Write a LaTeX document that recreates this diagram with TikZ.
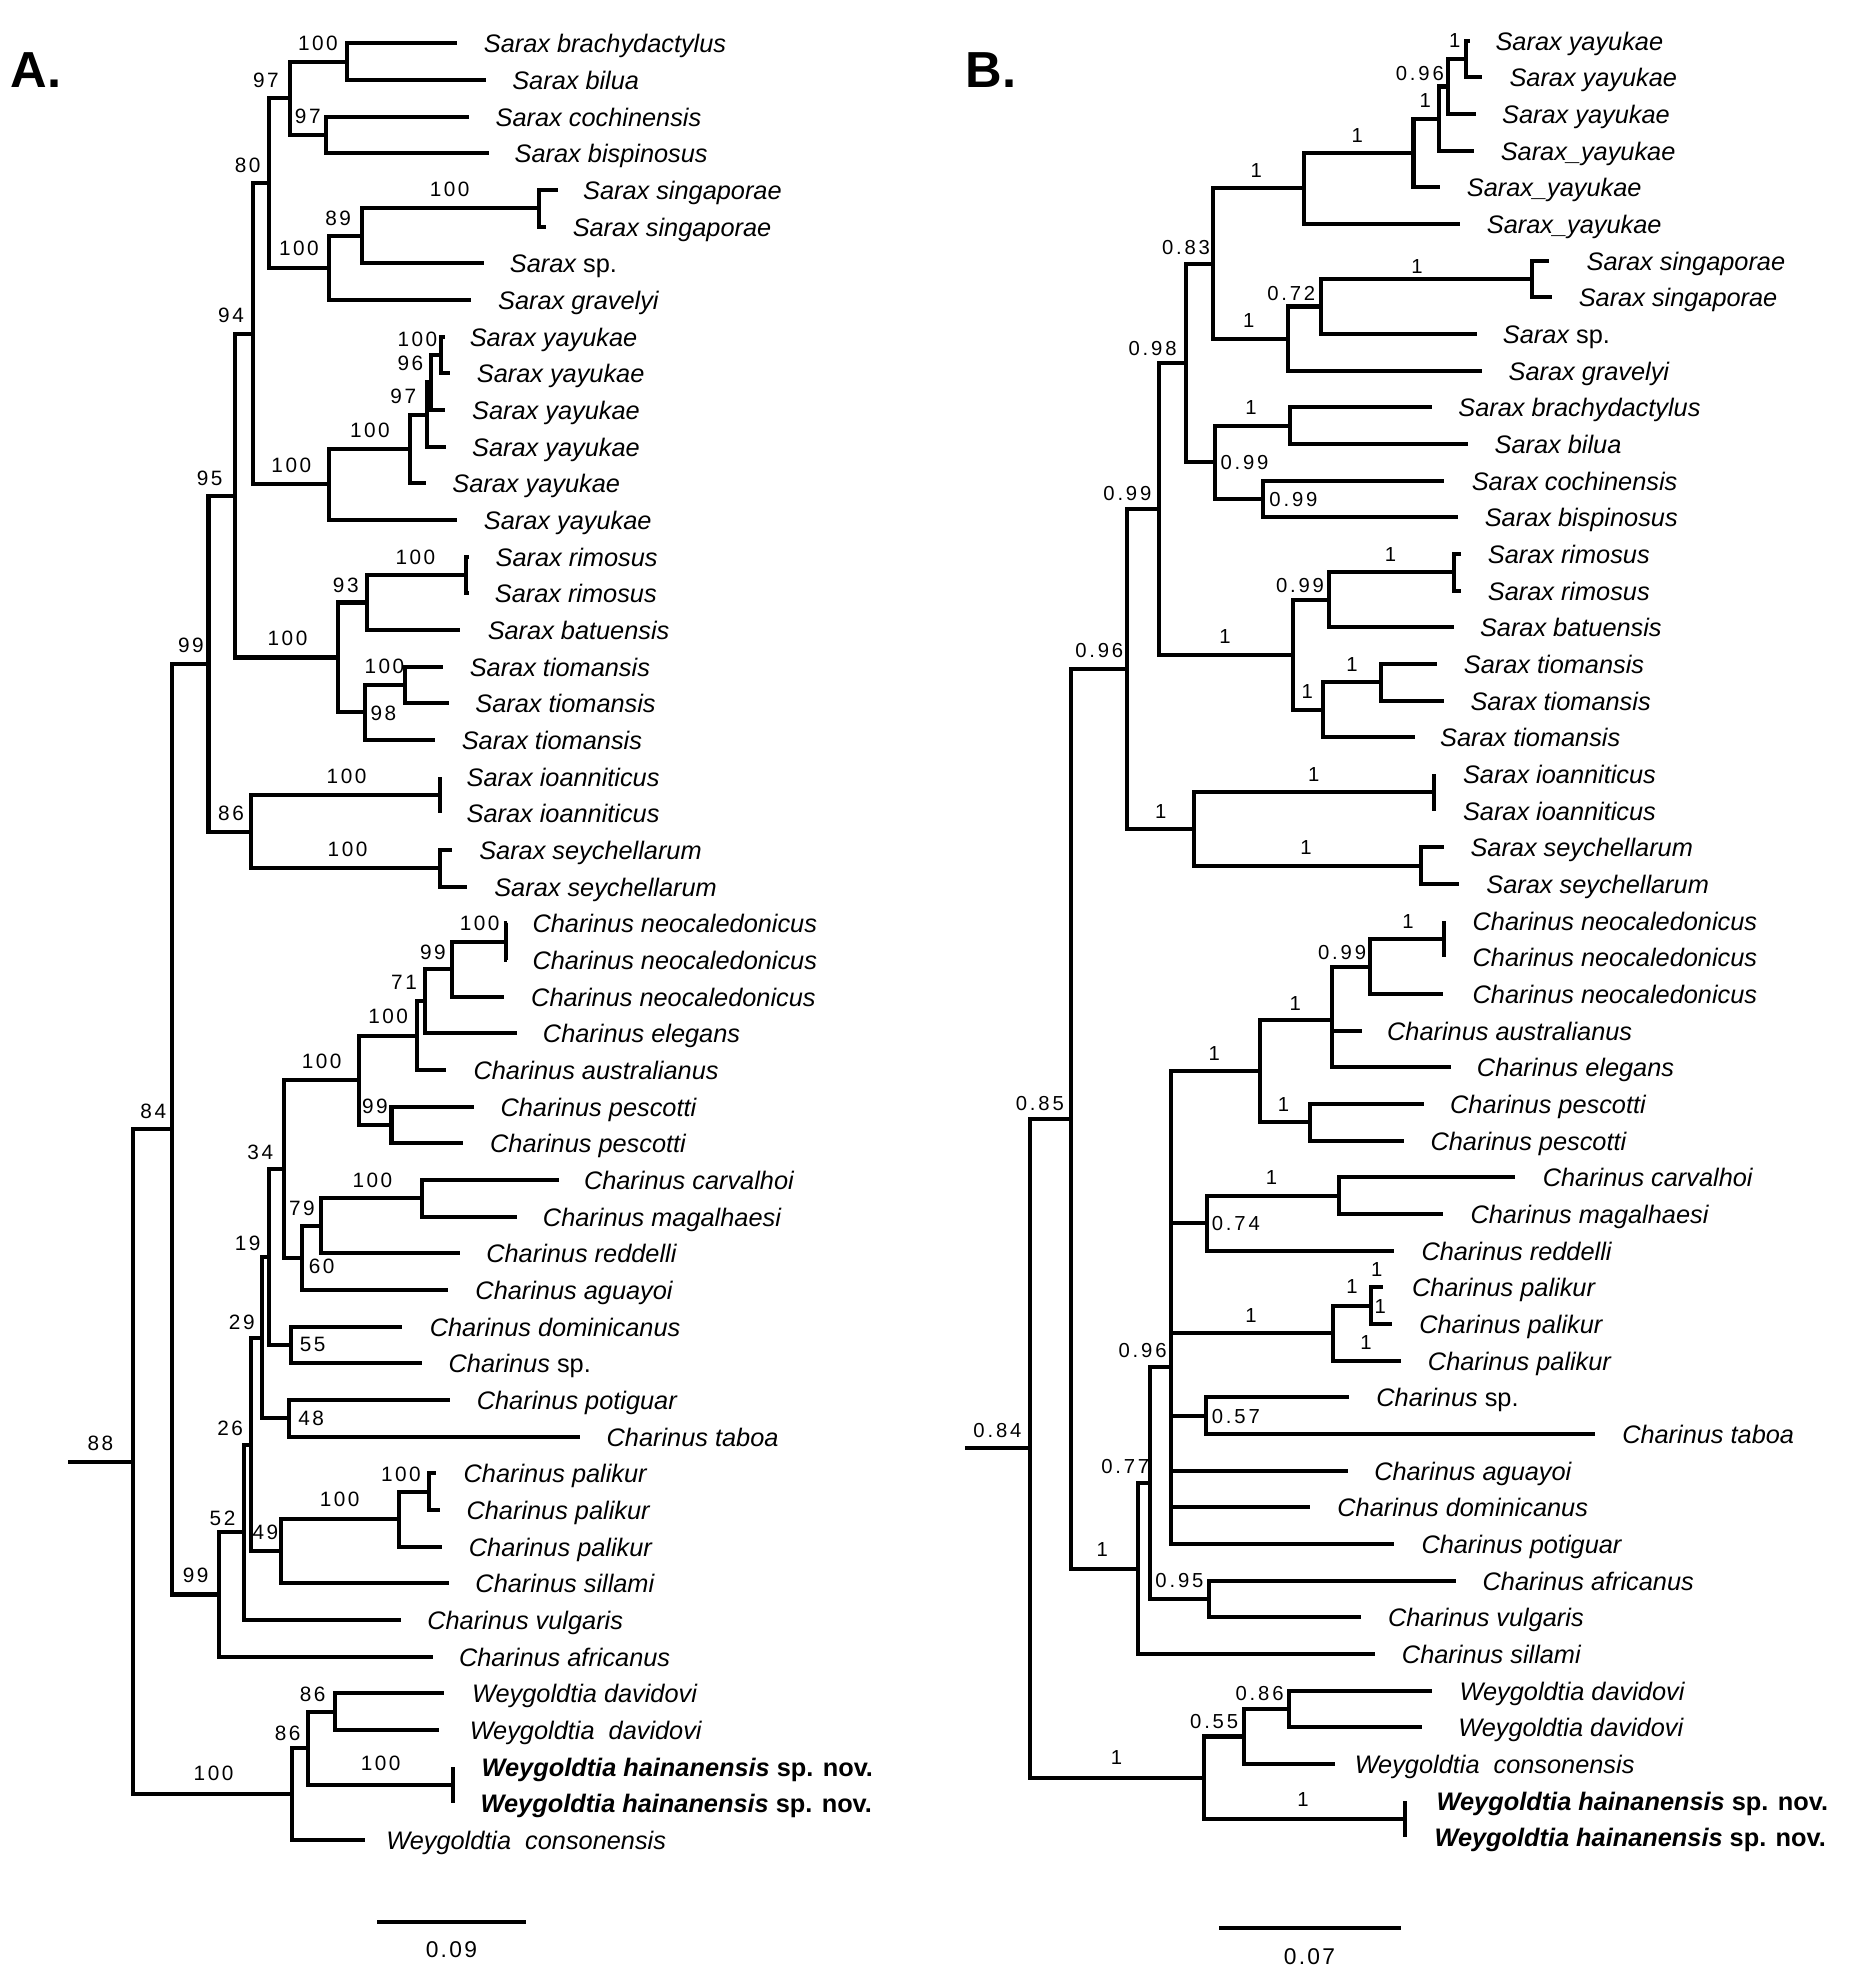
\documentclass[tikz,border=0pt]{standalone}
\usepackage{fontspec}
\setmainfont{Liberation Sans}
\newfontfamily\numA[LetterSpace=12]{Liberation Sans}
\newfontfamily\numB[LetterSpace=14]{Liberation Sans}
\newfontfamily\numC[LetterSpace=10]{Liberation Sans}
\newcommand{\Lf}[5]{\coordinate (#1) at (#2,#3); \node[tx] (t#1) at (#4,#3+7.4) {#5};}
\newcommand{\Br}[2]{\draw[br] (#1) |- (#2);}
\newcommand{\La}[4]{\node[sa] (#1) at (#2,#3+5.8) {#4};}
\newcommand{\Lb}[4]{\node[sb] (#1) at (#2,#3+5.8) {#4};}
\newcommand{\Hain}{{\bfseries Weygoldtia hainanensis \upshape sp. nov.}}
\tikzset{
  br/.style={line width=1.6pt, line join=miter, line cap=butt},
  tx/.style={anchor=base west, inner sep=0pt, font=\fontsize{10pt}{12pt}\selectfont\itshape},
  sa/.style={anchor=base, inner sep=0pt, font=\numA\fontsize{8.2pt}{10pt}\selectfont},
  sb/.style={anchor=base, inner sep=0pt, font=\numB\fontsize{8pt}{10pt}\selectfont},
  sc/.style={anchor=base, inner sep=0pt, font=\numC\fontsize{9pt}{11pt}\selectfont},
  ttl/.style={anchor=base west, inner sep=0pt, font=\fontsize{20pt}{24pt}\selectfont\bfseries},
}
\begin{document}
\begin{tikzpicture}[x=0.5pt,y=-0.5pt]
\useasboundingbox (0,0) rectangle (1472,1568);
\node[ttl] (titleA) at (8,69) {A.};
\node[ttl] (titleB) at (762,69) {B.};
% ================= TREE A =================
\Lf{a1}{361.2}{34.2}{381.7}{Sarax brachydactylus}
\Lf{a2}{383.6}{63.15}{404.1}{Sarax bilua}
\Lf{a3}{370.5}{92.1}{391.0}{Sarax cochinensis}
\Lf{a4}{386.2}{121.05}{406.0}{Sarax bispinosus}
\Lf{a5}{440.6}{150.0}{460.0}{Sarax singaporae}
\Lf{a6}{431.3}{178.95}{451.8}{Sarax singaporae}
\Lf{a7}{382.5}{207.9}{402.2}{Sarax {\upshape sp.}}
\Lf{a8}{371.7}{236.85}{392.9}{Sarax gravelyi}
\Lf{a9}{351.0}{265.8}{370.5}{Sarax yayukae}
\Lf{a10}{354.9}{294.75}{376.1}{Sarax yayukae}
\Lf{a11}{351.2}{323.7}{372.4}{Sarax yayukae}
\Lf{a12}{351.9}{352.65}{372.4}{Sarax yayukae}
\Lf{a13}{336.3}{381.6}{356.8}{Sarax yayukae}
\Lf{a14}{361.2}{410.55}{381.7}{Sarax yayukae}
\Lf{a15}{370.5}{439.5}{391.0}{Sarax rimosus}
\Lf{a16}{370.5}{468.45}{390.3}{Sarax rimosus}
\Lf{a17}{363.1}{497.4}{384.7}{Sarax batuensis}
\Lf{a18}{350.1}{526.35}{370.5}{Sarax tiomansis}
\Lf{a19}{354.5}{555.3}{375.0}{Sarax tiomansis}
\Lf{a20}{343.7}{584.25}{364.2}{Sarax tiomansis}
\Lf{a21}{347.5}{613.2}{368.0}{Sarax ioanniticus}
\Lf{a22}{347.5}{642.15}{368.0}{Sarax ioanniticus}
\Lf{a23}{356.8}{671.1}{378.0}{Sarax seychellarum}
\Lf{a24}{368.7}{700.05}{389.9}{Sarax seychellarum}
\Lf{a25}{400.5}{729.0}{420.1}{Charinus neocaledonicus}
\Lf{a26}{400.5}{757.95}{420.1}{Charinus neocaledonicus}
\Lf{a27}{397.7}{786.9}{419.0}{Charinus neocaledonicus}
\Lf{a28}{407.8}{815.85}{428.3}{Charinus elegans}
\Lf{a29}{351.9}{844.8}{373.5}{Charinus australianus}
\Lf{a30}{374.3}{873.75}{394.8}{Charinus pescotti}
\Lf{a31}{365.7}{902.7}{386.6}{Charinus pescotti}
\Lf{a32}{441.3}{931.65}{460.7}{Charinus carvalhoi}
\Lf{a33}{407.8}{960.6}{428.3}{Charinus magalhaesi}
\Lf{a34}{363.1}{989.55}{383.6}{Charinus reddelli}
\Lf{a35}{353.8}{1018.5}{375.0}{Charinus aguayoi}
\Lf{a36}{317.6}{1047.45}{338.9}{Charinus dominicanus}
\Lf{a37}{333.3}{1076.4}{353.8}{Charinus {\upshape sp.}}
\Lf{a38}{354.9}{1105.35}{376.1}{Charinus potiguar}
\Lf{a39}{458.1}{1134.3}{478.6}{Charinus taboa}
\Lf{a40}{344.5}{1163.25}{365.7}{Charinus palikur}
\Lf{a41}{347.5}{1192.2}{368.0}{Charinus palikur}
\Lf{a42}{349.0}{1221.15}{369.8}{Charinus palikur}
\Lf{a43}{354.5}{1250.1}{375.0}{Charinus sillami}
\Lf{a44}{316.5}{1279.05}{337.0}{Charinus vulgaris}
\Lf{a45}{341.5}{1308.0}{362.0}{Charinus africanus}
\Lf{a46}{350.8}{1336.95}{372.4}{Weygoldtia davidovi}
\Lf{a47}{346.3}{1365.9}{370.5}{Weygoldtia\ \ davidovi}
\Lf{a48}{357.5}{1394.85}{379.9}{\Hain}
\Lf{a49}{357.5}{1423.8}{379.1}{\Hain}
\Lf{a50}{287.9}{1452.75}{304.6}{Weygoldtia\ \ consonensis}
% internal nodes A
\coordinate (An100a) at (273.7,48.7);
\coordinate (An97c) at (257.7,106.6);
\coordinate (An97a) at (229,77.6);
\coordinate (Ansing) at (425.3,164.5);
\coordinate (An89) at (286,186.2);
\coordinate (An100s) at (259.5,211.5);
\coordinate (An80) at (212.2,144.6);
\coordinate (Any1) at (348.2,280.3);
\coordinate (An96) at (340,302);
\coordinate (An97y) at (337,327.3);
\coordinate (Any2) at (324,354.5);
\coordinate (Any3) at (259.5,382.5);
\coordinate (An94) at (200,263.6);
\coordinate (Anrim) at (368,454);
\coordinate (An93) at (289.7,475.7);
\coordinate (Antio) at (319.5,540.8);
\coordinate (An98) at (287.9,562.5);
\coordinate (Anr100) at (267,519.1);
\coordinate (An95) at (185.4,391.4);
\coordinate (Anioan) at (347.5,627.7);
\coordinate (Ansey) at (347.5,685.6);
\coordinate (An86) at (198.5,656.6);
\coordinate (An99a) at (164.6,524);
\coordinate (Anneo) at (399.6,743.5);
\coordinate (An99n) at (356.8,765.2);
\coordinate (An71) at (335.2,790.5);
\coordinate (An100e) at (329.6,817.7);
\coordinate (Anpesc) at (309.1,888.2);
\coordinate (An100p) at (283.8,853);
\coordinate (Ancarv) at (333.3,946.1);
\coordinate (An60) at (253.2,967.8);
\coordinate (An79) at (238.3,993.2);
\coordinate (An34) at (224.5,923.1);
\coordinate (An55) at (230.1,1061.9);
\coordinate (An19) at (212.2,992.5);
\coordinate (An48) at (227.9,1119.8);
\coordinate (An29) at (206.6,1056.2);
\coordinate (Anpa) at (338.9,1177.7);
\coordinate (Anpb) at (314.7,1199.4);
\coordinate (An49) at (221.5,1224.8);
\coordinate (An26) at (198.5,1140.5);
\coordinate (An52) at (192.9,1209.8);
\coordinate (An99c) at (173.1,1258.9);
\coordinate (An84) at (135.9,891.5);
\coordinate (Andav) at (264.4,1351.4);
\coordinate (Anhain) at (357.5,1409.3);
\coordinate (An86b) at (242.8,1380.4);
\coordinate (An86c) at (230.9,1416.6);
\coordinate (Anroot) at (105.3,1154);
\coordinate (Astart) at (53.9,1154);
% edges A
\Br{An100a}{a1}\Br{An100a}{a2}
\Br{An97c}{a3}\Br{An97c}{a4}
\Br{An97a}{An100a}\Br{An97a}{An97c}
\Br{Ansing}{a5}\Br{Ansing}{a6}
\Br{An89}{Ansing}\Br{An89}{a7}
\Br{An100s}{An89}\Br{An100s}{a8}
\Br{An80}{An97a}\Br{An80}{An100s}
\Br{Any1}{a9}\Br{Any1}{a10}
\Br{An96}{Any1}\Br{An96}{a11}
\Br{An97y}{An96}\Br{An97y}{a12}
\Br{Any2}{An97y}\Br{Any2}{a13}
\Br{Any3}{Any2}\Br{Any3}{a14}
\Br{An94}{An80}\Br{An94}{Any3}
\Br{Anrim}{a15}\Br{Anrim}{a16}
\Br{An93}{Anrim}\Br{An93}{a17}
\Br{Antio}{a18}\Br{Antio}{a19}
\Br{An98}{Antio}\Br{An98}{a20}
\Br{Anr100}{An93}\Br{Anr100}{An98}
\Br{An95}{An94}\Br{An95}{Anr100}
\Br{Anioan}{a21}\Br{Anioan}{a22}
\Br{Ansey}{a23}\Br{Ansey}{a24}
\Br{An86}{Anioan}\Br{An86}{Ansey}
\Br{An99a}{An95}\Br{An99a}{An86}
\Br{Anneo}{a25}\Br{Anneo}{a26}
\Br{An99n}{Anneo}\Br{An99n}{a27}
\Br{An71}{An99n}\Br{An71}{a28}
\Br{An100e}{An71}\Br{An100e}{a29}
\Br{Anpesc}{a30}\Br{Anpesc}{a31}
\Br{An100p}{An100e}\Br{An100p}{Anpesc}
\Br{Ancarv}{a32}\Br{Ancarv}{a33}
\Br{An60}{Ancarv}\Br{An60}{a34}
\Br{An79}{An60}\Br{An79}{a35}
\Br{An34}{An100p}\Br{An34}{An79}
\Br{An55}{a36}\Br{An55}{a37}
\Br{An19}{An34}\Br{An19}{An55}
\Br{An48}{a38}\Br{An48}{a39}
\Br{An29}{An19}\Br{An29}{An48}
\Br{Anpa}{a40}\Br{Anpa}{a41}
\Br{Anpb}{Anpa}\Br{Anpb}{a42}
\Br{An49}{Anpb}\Br{An49}{a43}
\Br{An26}{An29}\Br{An26}{An49}
\Br{An52}{An26}\Br{An52}{a44}
\Br{An99c}{An52}\Br{An99c}{a45}
\Br{An84}{An99a}\Br{An84}{An99c}
\Br{Andav}{a46}\Br{Andav}{a47}
\Br{Anhain}{a48}\Br{Anhain}{a49}
\Br{An86b}{Andav}\Br{An86b}{Anhain}
\Br{An86c}{An86b}\Br{An86c}{a50}
\Br{Anroot}{An84}\Br{Anroot}{An86c}
\draw[br] (Astart) -- (Anroot);
% labels A
\La{sA1}{251}{34}{100}
\La{sA2}{210}{63}{97}
\La{sA3}{243}{92}{97}
\La{sA4}{195.5}{130}{80}
\La{sA5}{355}{149.5}{100}
\La{sA6}{267}{172}{89}
\La{sA7}{236}{196}{100}
\La{sA8}{182.4}{248.7}{94}
\La{sA9}{329.5}{268}{100}
\La{sA10}{324}{287}{96}
\La{sA11}{318.4}{313}{97}
\La{sA12}{292}{339.5}{100}
\La{sA13}{230}{367}{100}
\La{sA14}{165.6}{377.6}{95}
\La{sA15}{328}{440}{100}
\La{sA16}{273}{462}{93}
\La{sA17}{227}{504}{100}
\La{sA18}{150.7}{509}{99}
\La{sA19}{303.5}{526}{100}
\La{sA20}{302.7}{563}{98}
\La{sA21}{273.6}{612.5}{100}
\La{sA22}{182.4}{642}{86}
\La{sA23}{274.4}{670.4}{100}
\La{sA24}{378.7}{729}{100}
\La{sA25}{341.8}{752}{99}
\La{sA26}{319}{775.6}{71}
\La{sA27}{306.5}{802.5}{100}
\La{sA28}{254}{838}{100}
\La{sA29}{296}{873}{99}
\La{sA30}{121}{877}{84}
\La{sA31}{205.5}{909.8}{34}
\La{sA32}{294}{931.4}{100}
\La{sA33}{238.3}{953.8}{79}
\La{sA34}{195.5}{981.4}{19}
\La{sA35}{254}{999.3}{60}
\La{sA36}{190.9}{1044}{29}
\La{sA37}{246.9}{1061}{55}
\La{sA38}{245.7}{1119.5}{48}
\La{sA39}{181.7}{1127.5}{26}
\La{sA40}{79.3}{1139.3}{88}
\La{sA41}{316.5}{1164}{100}
\La{sA42}{268.1}{1183.9}{100}
\La{sA43}{175.7}{1198.4}{52}
\La{sA44}{209.6}{1210}{49}
\La{sA45}{154.5}{1243.9}{99}
\La{sA46}{246.9}{1337.8}{86}
\La{sA47}{227.1}{1368}{86}
\La{sA48}{300.5}{1391.8}{100}
\La{sA49}{168.6}{1399.7}{100}
% scale A
\coordinate (sbA1) at (297.9,1517.3);
\coordinate (sbA2) at (415.2,1517.3);
\draw[br] (sbA1) -- (sbA2);
\node[sc] (sbAl) at (356.4,1545.5) {0.09};
% ================= TREE B =================
\Lf{b1}{1160.5}{32.1}{1180.4}{Sarax yayukae}
\Lf{b2}{1170}{61.05}{1191.4}{Sarax yayukae}
\Lf{b3}{1165.7}{90.0}{1185.6}{Sarax yayukae}
\Lf{b4}{1164}{118.95}{1184.5}{Sarax\_yayukae}
\Lf{b5}{1136.6}{147.9}{1157.8}{Sarax\_yayukae}
\Lf{b6}{1152.7}{176.85}{1173.6}{Sarax\_yayukae}
\Lf{b7}{1222.9}{205.8}{1252.3}{Sarax singaporae}
\Lf{b8}{1225.6}{234.75}{1246.1}{Sarax singaporae}
\Lf{b9}{1166.4}{263.7}{1186.2}{Sarax {\upshape sp.}}
\Lf{b10}{1170.2}{292.65}{1190.7}{Sarax gravelyi}
\Lf{b11}{1130.4}{321.6}{1151}{Sarax brachydactylus}
\Lf{b12}{1158.9}{350.55}{1179.7}{Sarax bilua}
\Lf{b13}{1140}{379.5}{1161.6}{Sarax cochinensis}
\Lf{b14}{1151}{408.45}{1171.9}{Sarax bispinosus}
\Lf{b15}{1153.7}{437.4}{1174.3}{Sarax rimosus}
\Lf{b16}{1153.7}{466.35}{1174.3}{Sarax rimosus}
\Lf{b17}{1147.6}{495.3}{1168.1}{Sarax batuensis}
\Lf{b18}{1134.9}{524.25}{1155.4}{Sarax tiomansis}
\Lf{b19}{1140}{553.2}{1160.6}{Sarax tiomansis}
\Lf{b20}{1117.1}{582.15}{1136.6}{Sarax tiomansis}
\Lf{b21}{1132.5}{611.1}{1154.7}{Sarax ioanniticus}
\Lf{b22}{1132.5}{640.05}{1154.7}{Sarax ioanniticus}
\Lf{b23}{1140}{669.0}{1160.6}{Sarax seychellarum}
\Lf{b24}{1152}{697.95}{1173.2}{Sarax seychellarum}
\Lf{b25}{1140}{726.9}{1162.3}{Charinus neocaledonicus}
\Lf{b26}{1140}{755.85}{1162.3}{Charinus neocaledonicus}
\Lf{b27}{1139.4}{784.8}{1162.3}{Charinus neocaledonicus}
\Lf{b28}{1075}{813.75}{1094.8}{Charinus australianus}
\Lf{b29}{1145.2}{842.7}{1165.7}{Charinus elegans}
\Lf{b30}{1124.6}{871.65}{1144.5}{Charinus pescotti}
\Lf{b31}{1108.5}{900.6}{1129.1}{Charinus pescotti}
\Lf{b32}{1196.5}{929.55}{1217.7}{Charinus carvalhoi}
\Lf{b33}{1139.4}{958.5}{1160.6}{Charinus magalhaesi}
\Lf{b34}{1100.7}{987.45}{1121.9}{Charinus reddelli}
\Lf{b35}{1092.1}{1016.4}{1114.4}{Charinus palikur}
\Lf{b36}{1099}{1045.35}{1120.2}{Charinus palikur}
\Lf{b37}{1105.8}{1074.3}{1127}{Charinus palikur}
\Lf{b38}{1065.4}{1103.25}{1086.3}{Charinus {\upshape sp.}}
\Lf{b39}{1259.1}{1132.2}{1280.4}{Charinus taboa}
\Lf{b40}{1064}{1161.15}{1084.6}{Charinus aguayoi}
\Lf{b41}{1034.6}{1190.1}{1055.5}{Charinus dominicanus}
\Lf{b42}{1100.7}{1219.05}{1121.9}{Charinus potiguar}
\Lf{b43}{1149.3}{1248.0}{1170.2}{Charinus africanus}
\Lf{b44}{1074.3}{1276.95}{1095.5}{Charinus vulgaris}
\Lf{b45}{1085.3}{1305.9}{1106.5}{Charinus sillami}
\Lf{b46}{1130.4}{1334.85}{1152}{Weygoldtia davidovi}
\Lf{b47}{1122.9}{1363.8}{1151}{Weygoldtia davidovi}
\Lf{b48}{1053.8}{1392.75}{1069.2}{Weygoldtia\ \ consonensis}
\Lf{b49}{1109.2}{1421.7}{1133.9}{\Hain}
\Lf{b50}{1109.2}{1450.65}{1132.2}{\Hain}
% internal nodes B
\coordinate (Bn1y) at (1157.8,46.6);
\coordinate (Bn096) at (1143.4,68.3);
\coordinate (Bn1a) at (1135.9,93.6);
\coordinate (Bn1b) at (1116,120.8);
\coordinate (Bn1c) at (1029.8,148.8);
\coordinate (Bnsing) at (1209.5,220.3);
\coordinate (Bn072) at (1043.2,242);
\coordinate (Bn1d) at (1016.8,267.3);
\coordinate (Bn083) at (957.6,208.1);
\coordinate (Bnbr) at (1018.5,336.1);
\coordinate (Bnco) at (996.9,394);
\coordinate (Bn099a) at (959.3,365);
\coordinate (Bn098) at (936.4,286.6);
\coordinate (Bnrim) at (1147.9,451.9);
\coordinate (Bn099r) at (1049.3,473.6);
\coordinate (Bntio1) at (1090.4,538.7);
\coordinate (Bntio) at (1044.9,560.4);
\coordinate (Bn1r) at (1020.9,517);
\coordinate (Bn099b) at (915.1,401.8);
\coordinate (Bnioan) at (1132.5,625.6);
\coordinate (Bnsey) at (1122.2,683.5);
\coordinate (Bn1i) at (942.5,654.5);
\coordinate (Bn096b) at (890.1,528.2);
\coordinate (Bnneo) at (1140,741.4);
\coordinate (Bn099n) at (1081.8,763.1);
\coordinate (Bn1n) at (1051.7,805);
\coordinate (Bnpesc) at (1033.9,886.1);
\coordinate (Bn1e) at (994.5,845.5);
\coordinate (Bncarv) at (1057.2,944);
\coordinate (Bn074) at (952.8,965.7);
\coordinate (BnpalA) at (1082.5,1030.9);
\coordinate (BnpalB) at (1052.7,1052.6);
\coordinate (Bn057) at (951.8,1117.7);
\coordinate (Bn096c) at (924.4,1079.5);
\coordinate (Bn095) at (954.2,1262.5);
\coordinate (Bn077) at (908.3,1171);
\coordinate (Bn1ch) at (898.7,1238.5);
\coordinate (Bn085) at (845.3,883.4);
\coordinate (Bn086) at (1017.8,1349.3);
\coordinate (Bn055) at (981.9,1371);
\coordinate (Bnhain) at (1109.2,1436.2);
\coordinate (Bn1w) at (950.7,1403.6);
\coordinate (Bnroot) at (813.1,1143.5);
\coordinate (Bstart) at (761.8,1143.5);
% edges B
\Br{Bn1y}{b1}\Br{Bn1y}{b2}
\Br{Bn096}{Bn1y}\Br{Bn096}{b3}
\Br{Bn1a}{Bn096}\Br{Bn1a}{b4}
\Br{Bn1b}{Bn1a}\Br{Bn1b}{b5}
\Br{Bn1c}{Bn1b}\Br{Bn1c}{b6}
\Br{Bnsing}{b7}\Br{Bnsing}{b8}
\Br{Bn072}{Bnsing}\Br{Bn072}{b9}
\Br{Bn1d}{Bn072}\Br{Bn1d}{b10}
\Br{Bn083}{Bn1c}\Br{Bn083}{Bn1d}
\Br{Bnbr}{b11}\Br{Bnbr}{b12}
\Br{Bnco}{b13}\Br{Bnco}{b14}
\Br{Bn099a}{Bnbr}\Br{Bn099a}{Bnco}
\Br{Bn098}{Bn083}\Br{Bn098}{Bn099a}
\Br{Bnrim}{b15}\Br{Bnrim}{b16}
\Br{Bn099r}{Bnrim}\Br{Bn099r}{b17}
\Br{Bntio1}{b18}\Br{Bntio1}{b19}
\Br{Bntio}{Bntio1}\Br{Bntio}{b20}
\Br{Bn1r}{Bn099r}\Br{Bn1r}{Bntio}
\Br{Bn099b}{Bn098}\Br{Bn099b}{Bn1r}
\Br{Bnioan}{b21}\Br{Bnioan}{b22}
\Br{Bnsey}{b23}\Br{Bnsey}{b24}
\Br{Bn1i}{Bnioan}\Br{Bn1i}{Bnsey}
\Br{Bn096b}{Bn099b}\Br{Bn096b}{Bn1i}
\Br{Bnneo}{b25}\Br{Bnneo}{b26}
\Br{Bn099n}{Bnneo}\Br{Bn099n}{b27}
\Br{Bn1n}{Bn099n}\Br{Bn1n}{b28}\Br{Bn1n}{b29}
\Br{Bnpesc}{b30}\Br{Bnpesc}{b31}
\Br{Bn1e}{Bn1n}\Br{Bn1e}{Bnpesc}
\Br{Bncarv}{b32}\Br{Bncarv}{b33}
\Br{Bn074}{Bncarv}\Br{Bn074}{b34}
\Br{BnpalA}{b35}\Br{BnpalA}{b36}
\Br{BnpalB}{BnpalA}\Br{BnpalB}{b37}
\Br{Bn057}{b38}\Br{Bn057}{b39}
\Br{Bn096c}{Bn1e}\Br{Bn096c}{Bn074}\Br{Bn096c}{BnpalB}\Br{Bn096c}{Bn057}
\Br{Bn096c}{b40}\Br{Bn096c}{b41}\Br{Bn096c}{b42}
\Br{Bn095}{b43}\Br{Bn095}{b44}
\Br{Bn077}{Bn096c}\Br{Bn077}{Bn095}
\Br{Bn1ch}{Bn077}\Br{Bn1ch}{b45}
\Br{Bn085}{Bn096b}\Br{Bn085}{Bn1ch}
\Br{Bn086}{b46}\Br{Bn086}{b47}
\Br{Bn055}{Bn086}\Br{Bn055}{b48}
\Br{Bnhain}{b49}\Br{Bnhain}{b50}
\Br{Bn1w}{Bn055}\Br{Bn1w}{Bnhain}
\Br{Bnroot}{Bn085}\Br{Bnroot}{Bn1w}
\draw[br] (Bstart) -- (Bnroot);
% labels B
\Lb{sB1}{1148.6}{32}{1}
\Lb{sB2}{1121}{58}{0.96}
\Lb{sB3}{1125.3}{79}{1}
\Lb{sB4}{1071.6}{106.6}{1}
\Lb{sB5}{991.8}{134}{1}
\Lb{sB6}{936.4}{195.3}{0.83}
\Lb{sB7}{1118.8}{210.5}{1}
\Lb{sB8}{1019.5}{231.6}{0.72}
\Lb{sB9}{986}{252.6}{1}
\Lb{sB10}{910}{275}{0.98}
\Lb{sB11}{987.7}{321.6}{1}
\Lb{sB12}{982.6}{364.5}{0.99}
\Lb{sB13}{890.1}{389}{0.99}
\Lb{sB14}{1021.2}{394}{0.99}
\Lb{sB15}{1097.9}{437.5}{1}
\Lb{sB16}{1026.4}{461.7}{0.99}
\Lb{sB17}{967.2}{502.5}{1}
\Lb{sB18}{867.9}{513.5}{0.96}
\Lb{sB19}{1067.5}{524.3}{1}
\Lb{sB20}{1032.2}{545.9}{1}
\Lb{sB21}{1037.3}{610.9}{1}
\Lb{sB22}{916.5}{640.7}{1}
\Lb{sB23}{1031.2}{669.1}{1}
\Lb{sB24}{1111.6}{727}{1}
\Lb{sB25}{1059.6}{751.7}{0.99}
\Lb{sB26}{1022.6}{791.9}{1}
\Lb{sB27}{958.6}{831.4}{1}
\Lb{sB28}{821}{870.9}{0.85}
\Lb{sB29}{1013.4}{871.4}{1}
\Lb{sB30}{1003.8}{929.3}{1}
\Lb{sB31}{975.7}{965.6}{0.74}
\Lb{sB32}{1087}{1002.4}{1}
\Lb{sB33}{1067.5}{1015.6}{1}
\Lb{sB34}{1089.7}{1030.9}{1}
\Lb{sB35}{987.7}{1038}{1}
\Lb{sB36}{1078.4}{1059.8}{1}
\Lb{sB37}{902.1}{1065.6}{0.96}
\Lb{sB38}{975.7}{1117.7}{0.57}
\Lb{sB39}{787.5}{1128.8}{0.84}
\Lb{sB40}{888.4}{1157.6}{0.77}
\Lb{sB41}{870.3}{1222.8}{1}
\Lb{sB42}{931.2}{1247.6}{0.95}
\Lb{sB43}{994.5}{1336.5}{0.86}
\Lb{sB44}{958.6}{1358.9}{0.55}
\Lb{sB45}{881.6}{1387.3}{1}
\Lb{sB46}{1028.8}{1420.2}{1}
% scale B
\coordinate (sbB1) at (962.7,1522);
\coordinate (sbB2) at (1105.8,1522);
\draw[br] (sbB1) -- (sbB2);
\node[sc] (sbBl) at (1033.9,1551) {0.07};
\end{tikzpicture}
\end{document}
